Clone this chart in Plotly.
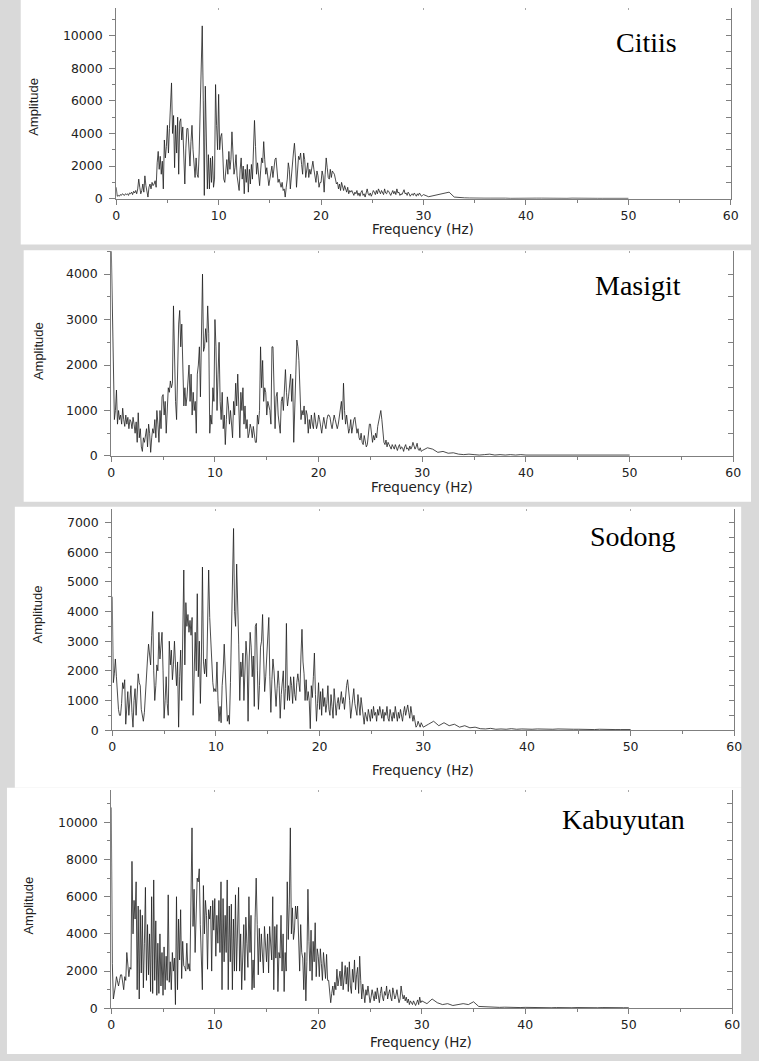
import plotly.graph_objects as go

# ---------------- data ----------------
FREQ = [round(i * 0.1, 1) for i in range(301)] + [30.5 + 0.5 * i for i in range(40)]

SITES = ["Citiis", "Masigit", "Sodong", "Kabuyutan"]
X_TICKS = [0, 10, 20, 30, 40, 50, 60]
X_TITLE = "Frequency (Hz)"
Y_TITLE = "Amplitude"

citiis = [
    700, 150, 200, 150, 250, 200, 300, 250, 200, 300,
    250, 300, 200, 350, 300, 400, 250, 450, 350, 500,
    300, 600, 1200, 700, 300, 500, 900, 400, 1400, 800,
    300, 100, 700, 900, 600, 1000, 800, 900, 1100, 700,
    2200, 2900, 1800, 2600, 1500, 2300, 600, 3600, 2500, 3200,
    4500, 2800, 4300, 5600, 7100, 4000, 5100, 1900, 4500, 2800,
    5000, 1500, 4700, 4900, 3600, 4400, 2500, 900, 3100, 4300,
    4300, 3200, 2000, 3500, 4500, 3000, 1800, 1300, 2500, 1500,
    1300, 2800, 5500, 9000, 10600, 6000, 200, 6900, 3500, 600,
    2700, 600, 2500, 1000, 2600, 700, 1200, 7000, 4500, 3000,
    6400, 3000, 3800, 4000, 2800, 1200, 1000, 1600, 2400, 1500,
    2900, 1800, 2400, 4100, 2200, 1500, 1900, 2700, 1400, 900,
    500, 1800, 2500, 1200, 2000, 300, 1800, 1000, 2100, 400,
    1800, 900, 2100, 1200, 3000, 4800, 3200, 1500, 2200, 1300,
    800, 1700, 2500, 2200, 3500, 2400, 1500, 1900, 1200, 800,
    1200, 1500, 2000, 1300, 1800, 2400, 2500, 1700, 1000, 1200,
    900, 700, 1000, 500, 600, 100, 700, 1200, 2200, 1800,
    600, 1500, 2300, 2800, 3400, 2500, 700, 1700, 2600, 2400,
    2800, 2100, 1500, 2800, 2400, 1300, 2000, 2200, 1300, 1800,
    1500, 2100, 2300, 1800, 1200, 1000, 1700, 1400, 700, 1000,
    1000, 1700, 1400, 400, 1500, 2500, 1900, 1300, 1200, 1800,
    1300, 1700, 1600, 1500, 1200, 900, 1000, 600, 900, 500,
    1000, 700, 500, 800, 600, 400, 700, 300, 500, 400,
    500, 300, 200, 400, 300, 500, 200, 350, 150, 400,
    500, 200, 300, 100, 400, 600, 300, 200, 350, 150,
    300, 500, 400, 250, 500, 300, 600, 400, 300, 500,
    400, 250, 600, 350, 300, 500, 450, 300, 200, 350,
    500, 300, 450, 250, 600, 350, 400, 200, 300, 250,
    400, 550, 300, 350, 200, 400, 300, 150, 250, 300,
    200, 350, 250, 150, 300, 200, 350, 250, 150, 200,
    250,
    120, 200, 250, 350, 400, 100, 60, 50, 40, 50,
    40, 30, 30, 40, 30, 30, 20, 30, 20, 30,
    20, 30, 30, 20, 20, 30, 20, 20, 30, 20,
    20, 20, 30, 20, 20, 20, 20, 30, 20, 20,
]

masigit = [
    4600, 3200, 1900, 800, 1000, 1450, 700, 1000, 800, 900,
    700, 1050, 800, 650, 900, 700, 850, 600, 800, 750,
    600, 850, 700, 500, 750, 300, 950, 400, 600, 200,
    100, 400, 300, 500, 600, 200, 700, 500, 80, 400,
    600, 500, 800, 400, 1000, 700, 300, 1000, 600, 1300,
    1350, 900, 1200, 500, 1000, 1500, 1400, 1650, 1500, 1600,
    3300, 2000, 1200, 800, 2200, 2900, 3200, 2400, 2900, 2000,
    1100, 1500, 1100, 1300, 1600, 2000, 1200, 1800, 900, 1400,
    1000, 1200, 500, 1800, 2000, 2400, 1300, 3400, 4000, 2300,
    2400, 2800, 2500, 3300, 2700, 500, 900, 700, 1500, 1200,
    3000, 2400, 1000, 1800, 2500, 1200, 800, 1400, 600, 900,
    250, 800, 1300, 1100, 700, 1000, 700, 400, 1200, 900,
    1600, 1100, 1800, 900, 400, 1400, 1000, 1500, 700, 1100,
    600, 800, 400, 500, 700, 600, 400, 650, 500, 300,
    300, 900, 700, 1000, 2400, 1500, 2100, 1200, 1500, 1400,
    900, 1200, 1100, 1000, 700, 2400, 2400, 1400, 600, 1300,
    1400, 900, 700, 500, 1200, 1300, 1000, 1500, 1900, 1400,
    1100, 1300, 1500, 1800, 1200, 1700, 300, 1400, 1800, 2550,
    2400, 2100, 1500, 800, 1000, 900, 1100, 700, 1000, 900,
    500, 800, 600, 900, 700, 600, 950, 800, 600, 700,
    900, 800, 600, 500, 700, 850, 700, 600, 800, 900,
    900, 850, 700, 600, 750, 900, 800, 650, 600, 700,
    900, 1000, 1200, 800, 1600, 1000, 700, 900, 600, 500,
    600, 800, 500, 700, 800, 850, 700, 500, 600, 400,
    350, 500, 300, 250, 450, 300, 200, 250, 500, 700,
    700, 500, 300, 450, 350, 500, 400, 650, 800, 950,
    1000, 800, 500, 300, 250, 350, 200, 300, 250, 200,
    150, 250, 200, 150, 250, 180, 120, 200, 250, 150,
    200, 180, 100, 200, 250, 150, 180, 120, 220, 150,
    200, 300, 220, 150, 200, 280, 150, 120, 180, 100,
    120,
    180, 150, 80, 100, 60, 70, 40, 30, 40, 30,
    20, 30, 40, 20, 30, 20, 30, 20, 30, 20,
    20, 30, 20, 30, 20, 20, 30, 20, 20, 30,
    20, 20, 30, 20, 20, 20, 30, 20, 20, 20,
]

sodong = [
    4500, 1600, 1900, 2400, 1800, 1000, 700, 500, 500, 900,
    1600, 1400, 1700, 200, 900, 1300, 500, 1200, 1500, 600,
    100, 1000, 1400, 500, 1200, 1900, 1600, 1500, 700, 400,
    300, 600, 1300, 1900, 2400, 2900, 2400, 2200, 3200, 4000,
    2000, 1000, 1500, 2200, 2000, 3300, 2400, 2800, 3300, 2000,
    400, 1000, 1800, 900, 500, 3000, 2200, 2700, 1700, 2200,
    3000, 2200, 1500, 2300, 100, 1800, 2700, 1000, 3800, 5400,
    2200, 4300, 3500, 3900, 3300, 3700, 3200, 3800, 500, 2500,
    3300, 2000, 4600, 1800, 3000, 900, 2500, 5500, 2300, 1900,
    2400, 1800, 4500, 5400, 3800, 3000, 2200, 1600, 1300, 1400,
    1300, 2300, 1000, 300, 800, 250, 1500, 2000, 2900, 1800,
    1000, 300, 500, 200, 1600, 3500, 5800, 6800, 4000, 3500,
    5600, 3500, 2900, 1000, 2300, 1800, 2600, 1000, 2000, 3000,
    2500, 300, 2300, 3300, 2800, 1800, 2500, 800, 3500, 3600,
    2000, 700, 1500, 2800, 3000, 3900, 2500, 1300, 1800, 2500,
    3000, 3800, 1800, 600, 1700, 2400, 2000, 1200, 800, 1400,
    2000, 1500, 400, 1200, 1800, 2000, 700, 1400, 3600, 1000,
    1500, 1000, 1800, 1500, 900, 1800, 1200, 1000, 1600, 1900,
    1600, 1300, 2500, 3400, 2300, 1900, 1000, 1700, 1000, 1300,
    1000, 50, 1500, 1100, 1800, 2600, 1200, 300, 900, 1600,
    700, 1300, 500, 1400, 800, 1100, 600, 900, 1500, 700,
    500, 1200, 800, 400, 1400, 700, 500, 900, 1100, 700,
    1000, 1300, 900, 1100, 700, 1300, 1500, 1700, 1400, 1000,
    400, 800, 1100, 1400, 900, 600, 500, 1200, 700, 500,
    1100, 800, 400, 200, 600, 400, 300, 700, 500, 300,
    700, 400, 800, 500, 600, 300, 700, 500, 800, 600,
    400, 700, 300, 600, 500, 800, 400, 300, 700, 500,
    300, 600, 400, 800, 500, 300, 600, 400, 700, 500,
    300, 600, 800, 500, 700, 850, 600, 400, 800, 500,
    300, 500, 200, 100, 150, 300, 200, 100, 250, 150,
    100,
    200, 300, 150, 250, 150, 200, 100, 150, 80, 100,
    50, 40, 60, 30, 40, 30, 50, 30, 40, 30,
    30, 40, 30, 20, 30, 40, 30, 20, 30, 30,
    20, 30, 20, 30, 20, 30, 20, 20, 30, 20,
]

kabuyutan = [
    10800, 2400, 500, 800, 1200, 1700, 1400, 1200, 1500, 1800,
    1800, 1300, 1000, 1700, 1500, 3000, 2000, 1700, 2200, 2100,
    7900, 4000, 5800, 4800, 6800, 1000, 5500, 500, 5300, 1900,
    5000, 1100, 3500, 6500, 1500, 4500, 1800, 4000, 900, 6000,
    800, 6900, 1500, 4700, 700, 3500, 800, 4000, 1200, 3000,
    700, 3300, 1000, 2800, 1500, 6100, 1400, 2500, 1000, 3000,
    2000, 2700, 200, 6000, 1000, 4800, 2600, 5300, 1600, 3600,
    2300, 2200, 2000, 3500, 2100, 2400, 2000, 7600, 9700, 4400,
    6400, 3000, 5000, 7000, 6800, 7500, 4500, 3000, 1000, 6600,
    4000, 5800, 5000, 2100, 5300, 4800, 5500, 2000, 5800, 4200,
    5900, 2800, 5000, 3500, 5800, 3000, 6800, 1000, 5900, 2500,
    5000, 3000, 6900, 1000, 5500, 2500, 5600, 1000, 4800, 2000,
    6100, 2000, 5000, 6500, 2000, 4000, 1000, 2600, 4500, 1500,
    4900, 3500, 2200, 6000, 3000, 5000, 1000, 2600, 1100, 4900,
    7000, 4500, 1800, 4300, 2500, 4000, 2800, 1900, 4400, 3000,
    2500, 4000, 1900, 4400, 3500, 2600, 6000, 1000, 4400, 2700,
    4500, 900, 3000, 2700, 5000, 2000, 4000, 900, 3000, 2000,
    6800, 3700, 5600, 9700, 4000, 5400, 3700, 4200, 5500, 4800,
    5500, 3900, 2000, 4500, 3000, 2700, 1000, 3000, 400, 2500,
    6400, 3600, 2000, 4200, 1500, 3600, 2500, 4600, 1700, 3200,
    2800, 1700, 3200, 2400, 1500, 3000, 2100, 1600, 2900, 1500,
    1500, 1000, 300, 800, 1200, 700, 1400, 1000, 2100, 1200,
    1500, 2000, 1200, 2500, 1000, 1800, 2300, 1300, 2200, 900,
    2500, 1200, 800, 2100, 1400, 2600, 1000, 1800, 2200, 800,
    2800, 1500, 500, 1300, 900, 300, 1000, 700, 1200, 500,
    300, 600, 1000, 700, 400, 900, 500, 1100, 600, 300,
    800, 1150, 600, 400, 900, 700, 1200, 500, 800, 1000,
    600, 400, 1100, 800, 500, 700, 1000, 600, 300, 500,
    1200, 800, 500, 700, 400, 600, 300, 500, 200, 400,
    300, 200, 400, 250, 150, 300, 450, 200, 600, 300,
    400,
    250, 500, 300, 200, 250, 150, 200, 250, 200, 350,
    100, 80, 60, 70, 50, 60, 40, 50, 40, 50,
    40, 30, 50, 40, 30, 40, 30, 40, 30, 40,
    30, 40, 30, 30, 40, 30, 30, 40, 30, 30,
]

SERIES = [citiis, masigit, sodong, kabuyutan]
for s in SERIES:
    assert len(s) == len(FREQ), len(s)

# ---------------- layout geometry (pixels in the 759x1061 page) ----------------
W, H = 759, 1061
BG_GRAY = "#d9d9d9"
AX_COLOR = "#7f7f7f"
TXT = "#222222"

PANELS = [
    dict(x0=114, x1=738.5, yb=200, yt=8, ymax=11700, dt=2000, mn=1000, rt=1000,
         label=(653, 43), ytitle=(30, 108), xtitle=(426, 231), white=(17, 0, 759, 246)),
    dict(x0=109, x1=741, yb=459, yt=253, ymax=4500, dt=1000, mn=500, rt=500,
         label=(644, 287), ytitle=(35, 353), xtitle=(425, 490), white=(20, 252, 759, 505)),
    dict(x0=110, x1=742, yb=735, yt=512, ymax=7470, dt=1000, mn=500, rt=500,
         label=(639, 540), ytitle=(34, 618), xtitle=(426, 775), white=(11, 510, 749, 793)),
    dict(x0=109, x1=740, yb=1015, yt=795, ymax=11750, dt=2000, mn=1000, rt=1000,
         label=(629, 825), ytitle=(25, 912), xtitle=(424, 1049), white=(3, 793, 749, 1061)),
]


def px(x):
    return x / W


def py(y):
    return 1 - y / H


fig = go.Figure()
layout = dict(
    width=W, height=H, margin=dict(l=0, r=0, t=0, b=0),
    paper_bgcolor=BG_GRAY, plot_bgcolor="rgba(0,0,0,0)", showlegend=False,
    shapes=[], annotations=[],
)

tick_font = dict(family="DejaVu Sans", size=12.5, color=TXT)

for i, (p, name, vals) in enumerate(zip(PANELS, SITES, SERIES)):
    k = i + 1
    kr = i + 5  # overlay axes (right y ticks, top x ticks)
    xa, ya = f"x{k}", f"y{k}"
    xr, yr = f"x{kr}", f"y{kr}"

    wx0, wy0, wx1, wy1 = p["white"]
    layout["shapes"].append(dict(type="rect", xref="paper", yref="paper",
                                 x0=px(wx0), x1=px(wx1), y0=py(wy1), y1=py(wy0),
                                 fillcolor="white", line=dict(width=0), layer="below"))

    dom_x = [px(p["x0"]), px(p["x1"])]
    dom_y = [py(p["yb"]), py(p["yt"])]

    layout[f"xaxis{k}"] = dict(
        domain=dom_x, anchor=ya, range=[0, 60], tickvals=X_TICKS,
        showline=True, linecolor=AX_COLOR, linewidth=1, ticks="outside",
        ticklen=5, tickcolor=AX_COLOR, tickfont=tick_font, showgrid=False,
        zeroline=False, minor=dict(ticks="outside", dtick=5, tick0=0, ticklen=3,
                                   tickcolor=AX_COLOR),
        fixedrange=True,
    )
    layout[f"yaxis{k}"] = dict(
        domain=dom_y, anchor=xa, range=[0, p["ymax"]], dtick=p["dt"], tick0=0,
        tickformat="d",
        showline=True, linecolor=AX_COLOR, linewidth=1, ticks="outside",
        ticklen=6, tickcolor=AX_COLOR, tickfont=tick_font, showgrid=False,
        zeroline=False, ticklabelstandoff=4,
        minor=dict(ticks="outside", dtick=p["mn"], tick0=0, ticklen=3, tickcolor=AX_COLOR),
        fixedrange=True,
    )
    # right-hand mirrored axis with inward ticks
    layout[f"yaxis{kr}"] = dict(
        overlaying=ya, anchor=xa, side="right", range=[0, p["ymax"]],
        dtick=p["rt"], tick0=0, showline=True, linecolor=AX_COLOR, linewidth=1,
        ticks="inside", ticklen=5, tickcolor=AX_COLOR, showticklabels=False,
        showgrid=False, zeroline=False, fixedrange=True,
    )
    # top faint tick dots
    layout[f"xaxis{kr}"] = dict(
        overlaying=xa, anchor=ya, side="top", range=[0, 60], dtick=10, tick0=0,
        showline=False, ticks="inside", ticklen=2, tickcolor="#a8a8a8",
        showticklabels=False, showgrid=False, zeroline=False, fixedrange=True,
    )

    fig.add_trace(go.Scatter(x=FREQ, y=vals, mode="lines", xaxis=xa, yaxis=ya,
                             line=dict(color="#1e1e1e", width=0.8),
                             hoverinfo="skip"))
    fig.add_trace(go.Scatter(x=[], y=[], xaxis=xa, yaxis=yr, hoverinfo="skip"))
    fig.add_trace(go.Scatter(x=[], y=[], xaxis=xr, yaxis=ya, hoverinfo="skip"))

    lx, ly = p["label"]
    layout["annotations"].append(dict(
        text=name, x=px(lx), y=py(ly), xref="paper", yref="paper",
        showarrow=False, xanchor="center", yanchor="middle",
        font=dict(family="Liberation Serif", size=28, color="black")))
    tx, ty = p["xtitle"]
    layout["annotations"].append(dict(
        text=X_TITLE, x=px(tx), y=py(ty), xref="paper", yref="paper",
        showarrow=False, xanchor="center", yanchor="middle",
        font=dict(family="DejaVu Sans", size=13.5, color=TXT)))
    yx, yy = p["ytitle"]
    layout["annotations"].append(dict(
        text=Y_TITLE, x=px(yx), y=py(yy), xref="paper", yref="paper",
        showarrow=False, xanchor="center", yanchor="middle", textangle=-90,
        font=dict(family="Liberation Sans", size=13, color=TXT)))

fig.update_layout(**layout)
fig.write_html("out.html")
